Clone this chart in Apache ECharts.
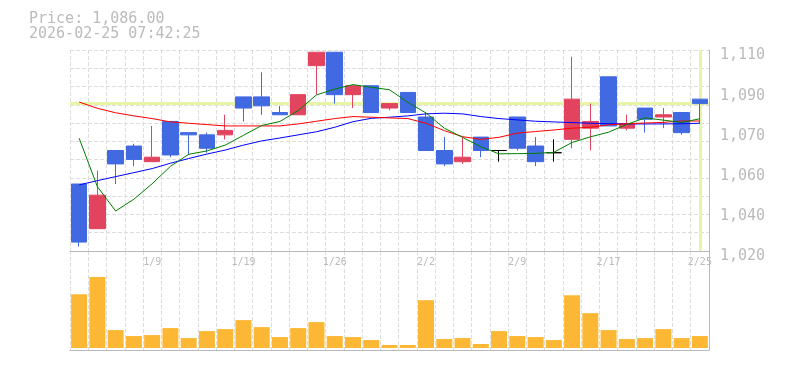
<!DOCTYPE html>
<html><head><meta charset="utf-8">
<script src="https://cdn.jsdelivr.net/npm/echarts@6/dist/echarts.min.js"></script>
<style>html,body{margin:0;padding:0;background:#fff}#c{width:785px;height:370px}</style>
</head><body><div id="c"></div>
<script>
// ---- data ----
const dates = ['1/5','1/6','1/7','1/8','1/9','1/13','1/14','1/15','1/16','1/19','1/20','1/21','1/22','1/23','1/26','1/27','1/28','1/29','1/30','2/2','2/3','2/4','2/5','2/6','2/9','2/10','2/12','2/13','2/16','2/17','2/18','2/19','2/20','2/24','2/25'];
const opens  = [1050,1030,1065,1067,1060,1078,1073,1072,1072,1089,1089,1082,1081,1103,1109,1090,1094,1084,1091,1080,1065,1060,1071,1065,1080,1067,1064,1070,1075,1098,1075,1084,1080,1082,1088];
const closes = [1024,1045,1059,1061,1062,1063,1072,1066,1074,1084,1085,1081,1090,1109,1090,1094,1082,1086,1082,1065,1059,1062,1065,1065,1066,1060,1064,1088,1078,1076,1077,1079,1081,1073,1086];
const lows   = [1022,1030,1050,1058,1060,1062,1063,1064,1070,1078,1081,1081,1081,1090,1086,1084,1082,1083,1082,1065,1058,1059,1062,1060,1065,1058,1060,1066,1065,1076,1074,1073,1075,1072,1077];
const highs  = [1050,1056,1065,1068,1076,1078,1073,1073,1081,1089,1100,1085,1090,1109,1109,1094,1094,1086,1091,1082,1071,1071,1071,1065,1080,1071,1070,1107,1086,1098,1081,1084,1084,1082,1088];
const ma5  = [1070.5,1048.8,1037.9,1043.2,1050.1,1057.9,1063.3,1064.8,1067.4,1071.8,1076.2,1078.0,1082.9,1089.9,1092.5,1094.5,1093.3,1092.2,1086.6,1081.8,1075.0,1070.9,1066.7,1063.5,1063.6,1063.7,1064.2,1068.6,1071.1,1073.2,1076.7,1079.6,1078.6,1077.6,1079.2];
const ma25 = [1086.7,1083.9,1081.9,1080.5,1079.3,1077.8,1077.2,1076.6,1076.0,1076.0,1076.0,1076.0,1076.9,1078.1,1079.3,1080.2,1079.9,1079.6,1079.3,1077.2,1073.9,1071.2,1070.0,1070.9,1072.8,1073.5,1074.2,1075.0,1075.4,1076.5,1077.0,1077.3,1077.6,1078.2,1078.2];
const ma75 = [1049.6,1051.5,1053.3,1055.1,1056.9,1059.3,1061.4,1063.4,1065.2,1067.4,1069.3,1070.6,1072.0,1073.4,1075.4,1077.9,1079.4,1079.9,1080.5,1081.4,1081.7,1081.4,1080.2,1079.3,1078.7,1078.1,1077.8,1077.5,1077.2,1077.0,1076.9,1076.9,1076.9,1077.0,1077.2];
const volumes = [16200,21400,5400,3600,3900,6000,3000,5100,5700,8400,6300,3300,6000,7800,3600,3300,2400,900,900,14400,2700,3000,1200,5100,3600,3300,2400,15900,10500,5400,2700,3000,5700,3000,3600];
const yTickLabels = ['1,020','1,040','1,060','1,070','1,090','1,110'];
const priceMin = 1020, priceMax = 1110;
const volMin = -600, volMax = 29200;
const currentPrice = 1086;
const timestamp = '2026-02-25 07:42:25';
const lastDate = dates[dates.length - 1];

// ---- styles ----
const MONO = '"DejaVu Sans Mono", monospace';
const TXT = '#bbbbbb';
const GRIDC = '#dddddd';
const AXISC = '#bbbbbb';
const UP = '#e2445f', DOWN = '#4169e1';

const candleData = dates.map((d, i) => {
  const v = [opens[i], closes[i], lows[i], highs[i]];
  if (opens[i] === closes[i]) {
    return { value: v, itemStyle: { color: '#000', color0: '#000', borderColor: '#000', borderColor0: '#000' } };
  }
  return v;
});

const chart = echarts.init(document.getElementById('c'), null, { renderer: 'canvas' });
const dashed = { color: GRIDC, type: [4, 2], width: 1 };
chart.setOption({
  animation: false,
  backgroundColor: '#fff',
  title: {
    text: 'Price: ' + currentPrice.toLocaleString('en-US', { minimumFractionDigits: 2, maximumFractionDigits: 2 }) + '\n' + timestamp,
    left: 29, top: 12, padding: 0,
    textStyle: { fontFamily: MONO, fontSize: 15, fontWeight: 'normal', color: TXT, lineHeight: 15 }
  },
  grid: [
    { left: 70, top: 50, width: 639, height: 201 },
    { left: 70, top: 251, width: 639, height: 99 }
  ],
  xAxis: [
    {
      type: 'category', gridIndex: 0, data: dates, boundaryGap: true,
      axisLine: { show: true, lineStyle: { color: AXISC, width: 1 } },
      axisTick: { show: false },
      axisLabel: { show: true, interval: (idx) => idx % 5 === 4, color: TXT, fontFamily: MONO, fontSize: 10, margin: 6 },
      splitLine: { show: true, interval: 0, lineStyle: dashed }
    },
    {
      type: 'category', gridIndex: 1, data: dates, boundaryGap: true,
      axisLine: { show: true, onZero: false, lineStyle: { color: AXISC, width: 1 } },
      axisTick: { show: false },
      axisLabel: { show: false },
      splitLine: { show: true, interval: 0, lineStyle: dashed }
    }
  ],
  yAxis: [
    { type: 'value', gridIndex: 0, min: priceMin, max: priceMax, show: false, position: 'left' },
    {
      type: 'value', gridIndex: 0, min: 0, max: yTickLabels.length - 1, interval: 1, position: 'right', offset: 0,
      axisLine: { show: true, lineStyle: { color: AXISC, width: 1 } },
      axisTick: { show: false },
      axisLabel: { show: true, showMinLabel: true, showMaxLabel: true, formatter: (v) => yTickLabels[v], color: TXT, fontFamily: MONO, fontSize: 15, margin: 11, verticalAlign: 'top', lineHeight: 11 },
      splitLine: { show: false }
    },
    {
      type: 'value', gridIndex: 0, min: 0, max: 11, interval: 1, position: 'left', offset: 0,
      axisLine: { show: false }, axisTick: { show: false }, axisLabel: { show: false },
      splitLine: { show: true, lineStyle: dashed }
    },
    {
      type: 'value', gridIndex: 1, min: volMin, max: volMax, position: 'right', offset: 0,
      axisLine: { show: true, lineStyle: { color: AXISC, width: 1 } },
      axisTick: { show: false }, axisLabel: { show: false }, splitLine: { show: false }
    }
  ],
  series: [
    {
      type: 'candlestick', xAxisIndex: 0, yAxisIndex: 0, barWidth: 16, z: 2,
      data: candleData,
      itemStyle: { color: UP, color0: DOWN, borderColor: UP, borderColor0: DOWN, borderWidth: 1 },
      emphasis: { disabled: true },
      markLine: {
        silent: true, z: 1, symbol: ['none', 'none'],
        label: { show: false },
        lineStyle: { color: '#e6f5a6', width: 3, type: 'solid' },
        emphasis: { disabled: true },
        data: [{ yAxis: currentPrice }, { xAxis: lastDate }]
      }
    },
    { type: 'line', name: 'MA75', xAxisIndex: 0, yAxisIndex: 0, data: ma75, symbol: 'none', z: 3, lineStyle: { color: '#0000ff', width: 1 }, emphasis: { disabled: true } },
    { type: 'line', name: 'MA25', xAxisIndex: 0, yAxisIndex: 0, data: ma25, symbol: 'none', z: 3, lineStyle: { color: '#ff0000', width: 1 }, emphasis: { disabled: true } },
    { type: 'line', name: 'MA5', xAxisIndex: 0, yAxisIndex: 0, data: ma5, symbol: 'none', z: 3, lineStyle: { color: '#008000', width: 1 }, emphasis: { disabled: true } },
    {
      type: 'bar', xAxisIndex: 1, yAxisIndex: 3, data: volumes, barWidth: 16,
      itemStyle: { color: '#fcb834' }, emphasis: { disabled: true }
    }
  ]
});
</script>
</body></html>
